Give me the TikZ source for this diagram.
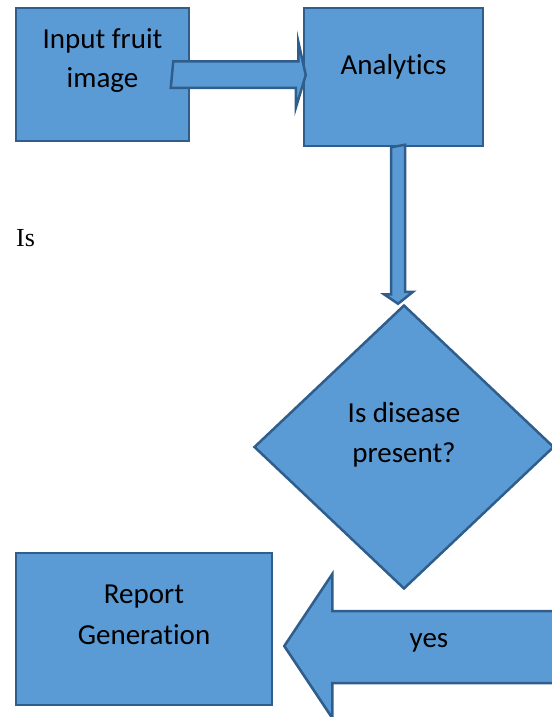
\documentclass[tikz,border=0pt]{standalone}
\usepackage{fontspec}
\setmainfont{Carlito}[Ligatures={NoCommon}]
\newfontfamily\serifface{Liberation Serif}
\usepackage{tikz}
\usetikzlibrary{shapes.geometric,positioning,calc}
\definecolor{boxfill}{HTML}{5B9BD5}
\definecolor{boxline}{HTML}{2F5D8C}

\begin{document}
\begin{tikzpicture}[x=1bp,y=-1bp,
  box/.style={draw=boxline,fill=boxfill,line width=2.5bp,inner sep=0pt},
  blockarrow/.style={draw=boxline,fill=boxfill,line width=2.5bp,line join=miter},
  txt/.style={align=center,inner sep=0pt,font=\fontsize{29bp}{39bp}\selectfont}]
\useasboundingbox (0,0) rectangle (552,717);

\node[box,minimum width=173bp,minimum height=133bp] (input) at (102.5,74.5) {};
\node[box,minimum width=179bp,minimum height=138bp] (analytics) at (393.5,77) {};
\node[box,diamond,aspect=1.056,minimum width=300bp,minimum height=284bp] (decision) at (404,447) {};
\node[box,minimum width=256bp,minimum height=152bp] (report) at (144,629) {};

\node[txt,below=22bp of input.north] (inputtxt) {Input fruit\\image};
\node[txt,below=47bp of analytics.north] (analyticstxt) {Analytics};
\node[txt,below=98bp of decision.north,font=\fontsize{29bp}{40bp}\selectfont] (decisiontxt) {Is disease\\present?};
\node[txt,below=33bp of report.north,font=\fontsize{29bp}{41bp}\selectfont] (reporttxt) {Report\\Generation};

\draw[blockarrow] ($(input.east)+(-17,-13)$) -- ++(125,0) -- ++(0,-20) -- ($(analytics.west)+(3,-2)$) -- ++(-10,33) -- ++(0,-20) -- ++(-125,0) -- cycle;
\draw[blockarrow] ($(analytics.south)+(-2.5,0)$) -- ++(0,147) -- ++(-7,0) -- ($(decision.north)+(-6,0)$) -- ++(15,-12) -- ++(-8,0) -- ++(0,-147) -- cycle;
\draw[blockarrow] ($(report.east)+(11,17)$) -- ++(48,-72) -- ++(0,37) -- ++(240,0) -- ++(0,72) -- ++(-240,0) -- ++(0,35) -- cycle;

\node[txt,anchor=base] (yes) at (429,647) {yes};
\node[anchor=base west,inner sep=0pt,font=\serifface\fontsize{26bp}{30bp}\selectfont] (is) at (16,246) {Is};
\end{tikzpicture}
\end{document}
